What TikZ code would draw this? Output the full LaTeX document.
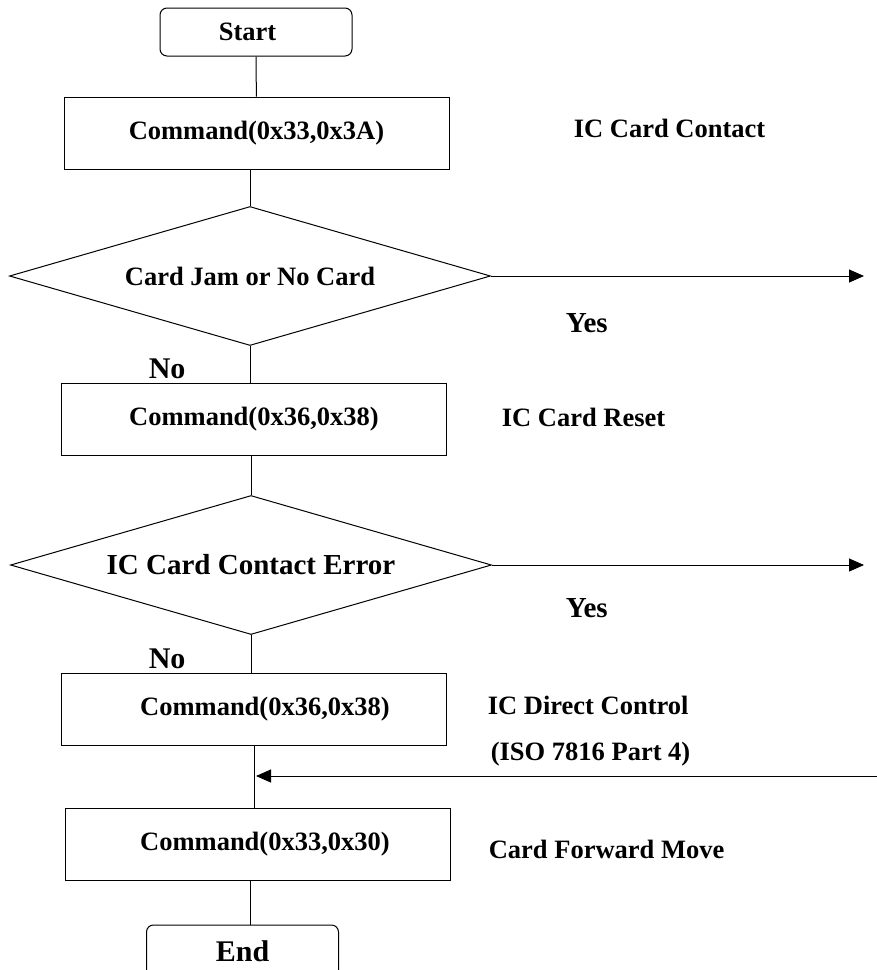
\documentclass[tikz,border=0pt]{standalone}
\usepackage{fontspec}
\setmainfont{Liberation Serif}
\usetikzlibrary{positioning, shapes.geometric, arrows.meta}
\newcommand{\flowfont}{\fontsize{26.5}{30}\selectfont\bfseries}

\begin{document}
\begin{tikzpicture}[x=1pt, y=1pt, line width=1pt, font=\flowfont,
    terminal/.style={draw, rounded corners=7pt, minimum width=192pt, minimum height=48pt, inner sep=0pt},
    cmdbox/.style={draw, minimum width=385pt, minimum height=72pt, inner sep=0pt},
    decision/.style={draw, diamond, aspect=3.5, minimum width=481pt, minimum height=139pt, inner sep=0pt},
    flow/.style={-{Triangle[length=15pt, width=13pt]}}]
    \useasboundingbox (0,0) rectangle (877,-970);
    %
    \node [terminal] (start) at (256,-32) {Start\kern17pt};
    \node [cmdbox, below of=start, node distance=101pt, xshift=0.5pt] (contact) {Command(0x33,0x3A)};
    \node [decision, below of=contact, node distance=143pt, xshift=-6.5pt] (jam) {Card Jam or No Card};
    \node [cmdbox, below of=jam, node distance=143pt, xshift=4pt] (reset) {Command(0x36,0x38)};
    \node [decision, below of=reset, node distance=146pt, xshift=-3pt] (err) {\fontsize{29}{32}\selectfont\bfseries IC Card Contact Error};
    \node [cmdbox, below of=err, node distance=144pt, xshift=3pt] (direct) {\kern22pt Command(0x36,0x38)};
    \node [cmdbox, below of=direct, node distance=135pt, xshift=4pt] (forward) {\kern14pt Command(0x33,0x30)};
    \node [terminal, below of=forward, node distance=107pt, xshift=-15.5pt, minimum height=52pt] (end) {\fontsize{30}{32}\selectfont\bfseries End};
    %
    \node [anchor=base west] (lcontact) at (570,-137) {IC Card Contact};
    \node [anchor=base west] (lreset) at (498,-426) {IC Card Reset};
    \node [anchor=base west] (ldirect) at (484,-714) {IC Direct Control};
    \node [anchor=base west] (liso) at (487,-760) {(ISO 7816 Part 4)};
    \node [anchor=base west] (lforward) at (485,-858) {Card Forward Move};
    \node [anchor=base west, font=\fontsize{29}{32}\selectfont\bfseries] (yes1) at (562,-332) {Yes};
    \node [anchor=base west, font=\fontsize{29}{32}\selectfont\bfseries] (yes2) at (562,-617) {Yes};
    \node [anchor=base west, font=\fontsize{30}{32}\selectfont\bfseries] (no1) at (145,-378) {No};
    \node [anchor=base west, font=\fontsize{30}{32}\selectfont\bfseries] (no2) at (145,-668) {No};
    %
    \coordinate (jamout) at (864,-276);
    \coordinate (errout) at (864,-565);
    \coordinate (isoin) at (877,-776);
    %
    \draw (start) -- (contact);
    \draw (jam.north) -- (jam.north |- contact.south);
    \draw (jam.south) -- (jam.south |- reset.north);
    \draw (err.north) -- (err.north |- reset.south);
    \draw (err.south) -- (err.south |- direct.north);
    \draw (direct.south) -- (direct.south |- forward.north);
    \draw ([xshift=7.5pt]end.north) -- ([xshift=7.5pt]end.north |- forward.south);
    \draw [flow] (jam.east) -- (jamout);
    \draw [flow] (err.east) -- (errout);
    \draw [flow] (isoin) -- ([xshift=2pt]isoin -| direct.south);
\end{tikzpicture}
\end{document}
